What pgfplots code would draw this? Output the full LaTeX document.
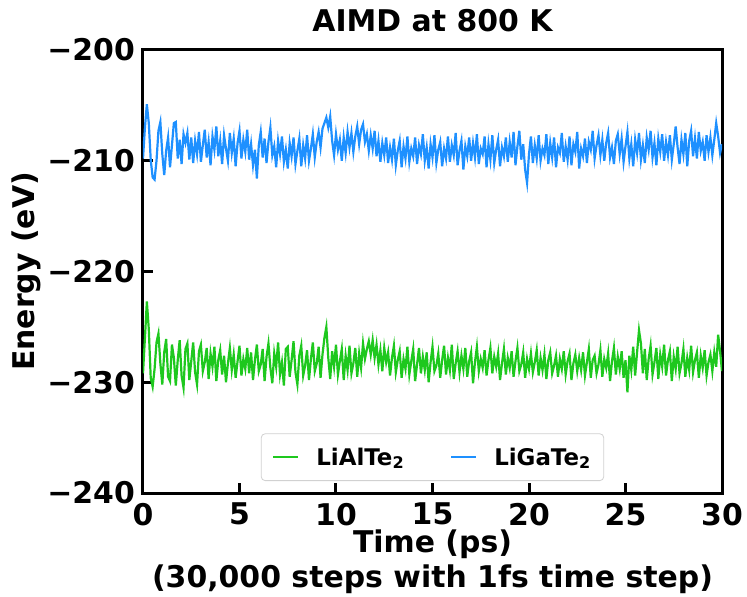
\documentclass[border=0pt]{standalone}
\usepackage{fontspec}
\setmainfont{DejaVu Sans}
\usepackage{pgfplots}
\usepackage{pgfplotstable}
\pgfplotsset{compat=1.18}
\definecolor{algreen}{RGB}{30,200,30}
\definecolor{gablue}{RGB}{30,144,255}
\pgfplotstableread{
t al ga
0.0 -229.2 -209.8
0.1 -226.0 -207.0
0.2 -222.7 -204.9
0.3 -225.2 -206.6
0.4 -229.6 -209.9
0.5 -230.4 -211.5
0.6 -228.8 -211.7
0.7 -226.4 -210.0
0.8 -225.6 -207.3
0.9 -228.3 -206.5
1.0 -230.2 -209.4
1.1 -227.3 -211.3
1.2 -226.1 -209.1
1.3 -229.5 -207.9
1.4 -229.9 -210.6
1.5 -226.6 -208.6
1.6 -227.8 -206.6
1.7 -230.3 -206.5
1.8 -228.0 -209.8
1.9 -226.2 -208.1
2.0 -229.4 -210.3
2.1 -230.5 -207.6
2.2 -227.0 -208.4
2.3 -226.5 -207.5
2.4 -229.8 -209.9
2.5 -228.1 -207.9
2.6 -226.4 -210.2
2.7 -229.1 -208.2
2.8 -230.2 -209.4
2.9 -227.2 -207.4
3.0 -226.6 -210.1
3.1 -229.0 -208.6
3.2 -228.2 -207.2
3.3 -226.9 -209.7
3.4 -229.7 -208.3
3.5 -227.4 -210.4
3.6 -228.6 -207.8
3.7 -226.8 -209.0
3.8 -229.9 -206.9
3.9 -228.0 -209.6
4.0 -227.1 -208.2
4.1 -229.3 -210.3
4.2 -227.6 -207.7
4.3 -230.0 -208.9
4.4 -228.3 -210.0
4.5 -226.9 -207.5
4.6 -228.9 -209.3
4.7 -227.5 -208.0
4.8 -229.6 -210.5
4.9 -228.1 -208.4
5.0 -226.7 -207.3
5.1 -229.4 -209.8
5.2 -227.9 -208.1
5.3 -228.8 -209.2
5.4 -226.9 -207.2
5.5 -229.2 -209.9
5.6 -227.3 -208.5
5.7 -229.8 -210.4
5.8 -228.0 -209.0
5.9 -226.6 -211.6
6.0 -229.0 -208.6
6.1 -228.4 -207.4
6.2 -227.0 -209.7
6.3 -229.9 -208.0
6.4 -227.7 -210.2
6.5 -226.5 -208.3
6.6 -228.7 -207.0
6.7 -230.1 -209.5
6.8 -227.4 -208.7
6.9 -228.6 -210.6
7.0 -226.4 -208.2
7.1 -229.3 -209.4
7.2 -228.2 -207.8
7.3 -230.3 -210.1
7.4 -227.0 -209.0
7.5 -226.8 -210.7
7.6 -229.5 -208.4
7.7 -228.0 -209.6
7.8 -226.3 -207.9
7.9 -229.1 -210.3
8.0 -230.2 -209.1
8.1 -227.6 -208.0
8.2 -226.7 -210.5
8.3 -229.4 -208.6
8.4 -228.5 -209.8
8.5 -227.1 -207.7
8.6 -229.8 -210.0
8.7 -227.9 -208.9
8.8 -226.4 -207.6
8.9 -229.0 -209.7
9.0 -228.3 -208.3
9.1 -226.8 -207.4
9.2 -229.6 -208.8
9.3 -227.5 -207.1
9.4 -226.0 -206.6
9.5 -225.0 -206.1
9.6 -227.8 -207.0
9.7 -229.7 -206.0
9.8 -227.2 -208.2
9.9 -228.6 -209.5
10.0 -226.6 -207.6
10.1 -229.3 -209.0
10.2 -228.1 -208.1
10.3 -227.0 -210.0
10.4 -229.8 -207.9
10.5 -227.6 -209.3
10.6 -228.9 -207.4
10.7 -226.7 -208.8
10.8 -229.2 -207.5
10.9 -228.3 -209.2
11.0 -226.9 -207.8
11.1 -229.5 -206.9
11.2 -227.4 -208.5
11.3 -228.7 -207.2
11.4 -226.5 -206.7
11.5 -227.9 -208.3
11.6 -227.0 -207.6
11.7 -226.3 -209.1
11.8 -227.5 -207.7
11.9 -226.2 -208.9
12.0 -227.8 -207.3
12.1 -226.6 -209.6
12.2 -228.4 -208.2
12.3 -227.1 -210.1
12.4 -229.0 -208.4
12.5 -226.9 -209.5
12.6 -228.2 -207.9
12.7 -227.3 -210.2
12.8 -229.4 -208.8
12.9 -227.8 -209.9
13.0 -226.7 -208.0
13.1 -229.1 -210.4
13.2 -228.0 -209.1
13.3 -227.2 -208.2
13.4 -229.6 -210.6
13.5 -227.9 -208.7
13.6 -228.8 -209.8
13.7 -226.8 -207.8
13.8 -229.3 -210.1
13.9 -228.1 -208.9
14.0 -227.0 -209.6
14.1 -229.9 -207.9
14.2 -228.4 -210.3
14.3 -226.9 -208.6
14.4 -229.2 -209.4
14.5 -227.7 -207.6
14.6 -228.9 -210.0
14.7 -227.3 -208.8
14.8 -230.0 -210.7
14.9 -228.2 -208.5
15.0 -226.8 -209.7
15.1 -229.0 -207.7
15.2 -228.5 -210.2
15.3 -227.4 -209.0
15.4 -229.6 -208.3
15.5 -228.0 -210.5
15.6 -226.7 -208.9
15.7 -229.3 -209.8
15.8 -227.8 -207.8
15.9 -228.9 -210.1
16.0 -226.6 -208.6
16.1 -229.7 -209.5
16.2 -228.3 -207.5
16.3 -227.2 -210.4
16.4 -229.1 -209.1
16.5 -227.6 -208.2
16.6 -228.8 -210.8
16.7 -226.9 -208.7
16.8 -229.5 -209.6
16.9 -228.1 -207.9
17.0 -227.3 -210.0
17.1 -230.1 -208.4
17.2 -228.2 -209.7
17.3 -226.8 -207.6
17.4 -229.0 -210.3
17.5 -227.9 -208.9
17.6 -228.7 -209.4
17.7 -227.1 -207.8
17.8 -229.4 -210.6
17.9 -228.0 -208.5
18.0 -226.9 -209.9
18.1 -229.2 -207.7
18.2 -227.7 -210.2
18.3 -228.6 -209.0
18.4 -227.4 -208.1
18.5 -229.8 -210.5
18.6 -228.3 -208.8
18.7 -227.0 -209.6
18.8 -229.3 -207.9
18.9 -227.8 -210.1
19.0 -228.7 -208.3
19.1 -227.2 -209.7
19.2 -229.5 -207.4
19.3 -228.1 -210.4
19.4 -226.9 -208.7
19.5 -229.0 -207.3
19.6 -228.4 -209.9
19.7 -227.3 -208.5
19.8 -229.6 -210.8
19.9 -227.9 -212.0
20.0 -228.8 -209.4
20.1 -227.4 -207.8
20.2 -229.1 -210.2
20.3 -228.2 -208.6
20.4 -227.1 -209.8
20.5 -229.4 -207.7
20.6 -227.8 -210.0
20.7 -228.9 -208.9
20.8 -227.5 -209.5
20.9 -229.7 -207.6
21.0 -228.0 -210.3
21.1 -227.3 -208.4
21.2 -229.2 -209.7
21.3 -228.5 -207.9
21.4 -227.6 -210.6
21.5 -229.5 -208.8
21.6 -227.9 -209.3
21.7 -228.8 -207.5
21.8 -227.2 -210.1
21.9 -229.3 -208.7
22.0 -228.1 -209.9
22.1 -227.4 -207.8
22.2 -229.8 -210.4
22.3 -228.3 -208.5
22.4 -227.5 -209.2
22.5 -229.0 -207.4
22.6 -227.8 -210.7
22.7 -228.9 -208.9
22.8 -227.3 -209.6
22.9 -229.4 -208.0
23.0 -228.2 -210.2
23.1 -227.0 -208.3
23.2 -229.6 -209.0
23.3 -228.0 -207.3
23.4 -227.6 -209.8
23.5 -229.2 -208.6
23.6 -228.4 -207.7
23.7 -227.1 -209.5
23.8 -229.5 -208.1
23.9 -227.9 -210.0
24.0 -228.7 -208.4
24.1 -227.4 -207.5
24.2 -229.9 -209.7
24.3 -228.1 -208.8
24.4 -226.9 -210.3
24.5 -229.3 -208.2
24.6 -227.7 -207.6
24.7 -228.8 -209.4
24.8 -227.2 -208.0
24.9 -229.6 -210.1
25.0 -228.0 -208.7
25.1 -230.9 -207.4
25.2 -227.6 -209.8
25.3 -228.9 -208.5
25.4 -226.8 -210.5
25.5 -229.4 -208.1
25.6 -227.3 -209.3
25.7 -225.3 -207.5
25.8 -226.5 -209.9
25.9 -229.2 -208.6
26.0 -227.0 -210.2
26.1 -229.8 -207.9
26.2 -227.9 -209.0
26.3 -226.7 -207.3
26.4 -229.3 -209.7
26.5 -228.2 -208.4
26.6 -226.9 -210.4
26.7 -229.7 -208.0
26.8 -227.5 -209.2
26.9 -228.6 -207.6
27.0 -226.6 -210.0
27.1 -229.4 -208.3
27.2 -228.0 -209.5
27.3 -227.2 -207.7
27.4 -229.9 -209.9
27.5 -227.7 -208.5
27.6 -228.8 -206.9
27.7 -226.8 -208.8
27.8 -229.2 -210.3
27.9 -228.3 -208.1
28.0 -227.0 -209.4
28.1 -229.5 -207.5
28.2 -227.8 -210.5
28.3 -228.9 -208.2
28.4 -226.7 -207.3
28.5 -229.1 -209.6
28.6 -228.0 -208.0
28.7 -227.3 -209.8
28.8 -229.6 -207.4
28.9 -227.6 -209.1
29.0 -228.7 -208.3
29.1 -227.1 -210.0
29.2 -229.4 -207.7
29.3 -228.2 -209.2
29.4 -227.5 -207.9
29.5 -229.0 -209.5
29.6 -227.3 -208.1
29.7 -228.6 -206.6
29.8 -225.7 -207.8
29.9 -227.2 -209.3
30.0 -229.0 -208.5
}\energydata
\begin{document}
\begin{tikzpicture}
\begin{axis}[
  scale only axis,
  width=579bp, height=443bp,
  xmin=0, xmax=30, ymin=-240, ymax=-200,
  xtick={0,5,10,15,20,25,30},
  xticklabels={0,5,10,15,20,25,30},
  ytick={-240,-230,-220,-210,-200},
  yticklabels={−240,−230,−220,−210,−200},
  tick pos=left,
  tick align=inside,
  major tick length=10bp,
  every tick/.style={black, line width=3bp},
  axis line style={line width=3bp},
  every tick label/.append style={font=\fontsize{30}{36}\selectfont\bfseries, inner sep=0pt},
  xticklabel style={yshift=-10bp},
  yticklabel style={xshift=-8bp},
  title={AIMD at 800 K},
  title style={font=\fontsize{30}{36}\selectfont\bfseries, at={(axis description cs:0.5,1)}, anchor=base, yshift=13bp},
  xlabel={Time (ps)\\(30,000 steps with 1fs time step)},
  xlabel style={font=\fontsize{30}{35}\selectfont\bfseries, align=center, at={(axis description cs:0.5,0)}, anchor=north, inner sep=0pt, yshift=-37bp},
  ylabel={Energy (eV)},
  ylabel style={font=\fontsize{30}{36}\selectfont\bfseries, at={(axis description cs:-0.188,0.5)}, anchor=base, inner sep=0pt},
  legend columns=2,
  legend style={at={(axis description cs:0.5,0.027)}, anchor=south, draw=black!18, line width=0.8bp, rounded corners=4bp, fill=white,
    font=\fontsize{23}{28}\selectfont\bfseries, inner xsep=11bp, inner ysep=12bp,
    /tikz/every even column/.append style={column sep=44bp}},
  legend image code/.code={\draw[#1] (0bp,0bp) -- (25bp,0bp); \path[draw=none, fill=none] (41bp,0bp) circle (0bp);},
  legend cell align=left,
]
\addplot[algreen, line width=2.2bp] table[x=t, y=al] {\energydata};
\addlegendentry{LiAlTe\textsubscript{2}}
\addplot[gablue, line width=2.2bp] table[x=t, y=ga] {\energydata};
\addlegendentry{LiGaTe\textsubscript{2}}
\end{axis}
\path (current axis.south west) ++(-143bp,-104bp) rectangle ++(747bp,597bp);
\end{tikzpicture}
\end{document}
